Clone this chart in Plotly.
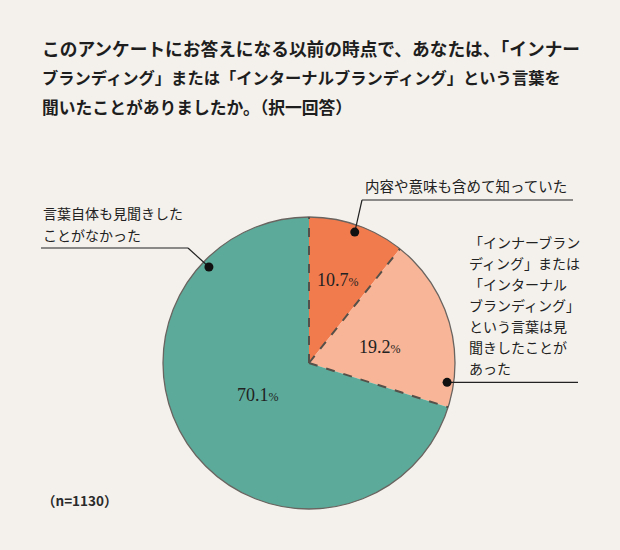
import math
import plotly.graph_objects as go

# ---------------- data ----------------
categories = [
    "内容や意味も含めて知っていた",
    "「インナーブランディング」または「インターナルブランディング」という言葉は見聞きしたことがあった",
    "言葉自体も見聞きしたことがなかった",
]
values = [10.7, 19.2, 70.1]
pct_labels = ["10.7", "19.2", "70.1"]
label_lines = [
    ["内容や意味も含めて知っていた"],
    ["「インナーブラン", "ディング」または", "「インターナル", "ブランディング」",
     "という言葉は見", "聞きしたことが", "あった"],
    ["言葉自体も見聞きした", "ことがなかった"],
]
title_lines = [
    "このアンケートにお答えになる以前の時点で、あなたは、「インナー",
    "ブランディング」または「インターナルブランディング」という言葉を",
    "聞いたことがありましたか。（択一回答）",
]
note = "（n=1130）"

# ---------------- style ----------------
colors = ["#f27b4e", "#f9b597", "#5cab9a"]
BG = "#f4f1ec"
W, H = 620, 550
CX, CY, R = 309, 363, 146
JP = "Noto Sans CJK JP"
SERIF = "Liberation Serif"
INK = "#222222"

def px(x):
    return x / W

def py(y):
    return 1 - y / H

total = sum(values)
starts = []
acc = 0.0
for v in values:
    starts.append(acc / total * 360.0)
    acc += v
widths = [v / total * 360.0 for v in values]

def polar(angle, rfrac):
    a = math.radians(angle)
    return CX + rfrac * R * math.sin(a), CY - rfrac * R * math.cos(a)

fig = go.Figure(go.Pie(
    labels=categories,
    values=values,
    sort=False,
    direction="clockwise",
    rotation=0,
    textinfo="none",
    hoverinfo="label+percent",
    marker=dict(colors=colors, line=dict(width=0)),
    domain=dict(x=[px(CX - R), px(CX + R)], y=[py(CY + R), py(CY - R)]),
    showlegend=False,
))

shapes = []
annotations = []

# outer rim
shapes.append(dict(type="circle", xref="paper", yref="paper",
                   x0=px(CX - R), x1=px(CX + R), y0=py(CY + R), y1=py(CY - R),
                   line=dict(color="#6a6460", width=1.3)))
# dashed radial boundaries
for s in starts:
    x1, y1 = polar(s, 1.0)
    shapes.append(dict(type="line", xref="paper", yref="paper",
                       x0=px(CX), y0=py(CY), x1=px(x1), y1=py(y1),
                       line=dict(color="#555049", width=2, dash="dash")))

# percent labels (position within slice: fraction of slice angle, fraction of radius)
pct_pos = [(0.5, 0.6), (0.56, 0.5), (0.516, 0.41)]
for i, (fa, fr) in enumerate(pct_pos):
    x, y = polar(starts[i] + fa * widths[i], fr)
    annotations.append(dict(
        x=px(x), y=py(y), xref="paper", yref="paper", showarrow=False,
        xanchor="center", yanchor="middle",
        text=pct_labels[i] + "<span style='font-size:12px'>%</span>",
        font=dict(family=SERIF, size=18, color=INK)))

# leader lines + dots
dot_pos = [(0.5, 0.95), (0.86, 0.955), (0.817, 0.95)]
elbows = [(362, 200, 573), (None, None, 578), (188, 248, 41)]
for i, (fa, fr) in enumerate(dot_pos):
    dx, dy = polar(starts[i] + fa * widths[i], fr)
    ex, ey, end = elbows[i]
    if ex is None:
        ex, ey = dx, dy
    else:
        shapes.append(dict(type="line", xref="paper", yref="paper",
                           x0=px(dx), y0=py(dy), x1=px(ex), y1=py(ey),
                           line=dict(color=INK, width=1.2)))
    shapes.append(dict(type="line", xref="paper", yref="paper",
                       x0=px(ex), y0=py(ey), x1=px(end), y1=py(ey),
                       line=dict(color=INK, width=1.2)))
    rd = 4.5
    shapes.append(dict(type="circle", xref="paper", yref="paper",
                       x0=px(dx - rd), x1=px(dx + rd), y0=py(dy + rd), y1=py(dy - rd),
                       fillcolor="#111111", line=dict(width=0)))

# category label texts
label_anchor = [(363, 186, 21, 14.5), (467, 242, 21, 14), (41, 213, 22, 14)]
for i, lines in enumerate(label_lines):
    lx, ly, step, fs = label_anchor[i]
    for j, t in enumerate(lines):
        annotations.append(dict(
            x=px(lx), y=py(ly + j * step), xref="paper", yref="paper", showarrow=False,
            xanchor="left", yanchor="middle", text=t,
            font=dict(family=JP, size=fs, color=INK)))

# title
title_sizes = [17.7, 16.3, 16.8]
for j, t in enumerate(title_lines):
    annotations.append(dict(
        x=px(40), y=py(48 + j * 29.5), xref="paper", yref="paper", showarrow=False,
        xanchor="left", yanchor="middle", text="<b>" + t + "</b>",
        font=dict(family=JP, size=title_sizes[j], color="#1e1e1e")))

annotations.append(dict(
    x=px(40), y=py(500), xref="paper", yref="paper", showarrow=False,
    xanchor="left", yanchor="middle", text="<b>" + note + "</b>",
    font=dict(family=JP, size=13.5, color="#2a2a2a")))

fig.update_layout(
    width=W, height=H, autosize=False,
    margin=dict(l=0, r=0, t=0, b=0),
    paper_bgcolor=BG, plot_bgcolor=BG,
    shapes=shapes, annotations=annotations,
)

fig.write_html("out.html", config={"displayModeBar": False},
               post_script="document.body.style.margin='0';document.body.style.background='#f4f1ec';")
